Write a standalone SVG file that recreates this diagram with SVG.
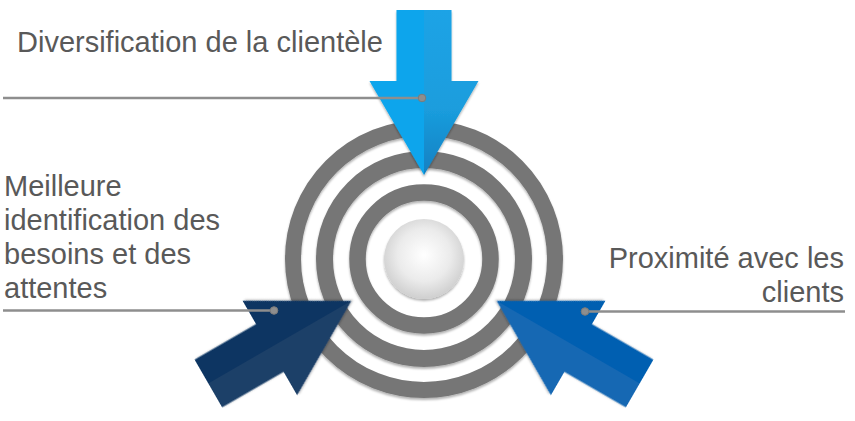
<svg xmlns="http://www.w3.org/2000/svg" width="855" height="421" viewBox="0 0 855 421">
<defs>
  <style>
    .lbl{font-family:"Liberation Sans",Arial,sans-serif;font-size:29px;fill:#595959}
    .ring{fill:none;stroke:#767676}
    .lead{stroke:#8e8e8e;stroke-width:2.5;fill:none}
    .dot{fill:#8e8e8e;stroke:#7a7a7a;stroke-width:1}
  </style>
  <filter id="sh" x="-20%" y="-20%" width="140%" height="140%">
    <feDropShadow dx="0" dy="2" stdDeviation="1.2" flood-color="#000" flood-opacity="0.3"/>
  </filter>
  <radialGradient id="ball" cx="0.5" cy="0.45" r="0.55">
    <stop offset="0" stop-color="#ffffff"/>
    <stop offset="0.6" stop-color="#ebebeb"/>
    <stop offset="1" stop-color="#cfcfcf"/>
  </radialGradient>
  <linearGradient id="topR" x1="0" y1="0" x2="0" y2="1">
    <stop offset="0" stop-color="#1aa3e6"/>
    <stop offset="0.6" stop-color="#1a9ddd"/>
    <stop offset="1" stop-color="#1180c2"/>
  </linearGradient>
  <path id="halfL" d="M0,-165 L-27.5,-165 L-27.5,-94 L-54.5,-94 L0,0 Z"/>
  <path id="halfR" d="M0,-165 L27.5,-165 L27.5,-94 L54.5,-94 L0,0 Z"/>
</defs>
<rect width="855" height="421" fill="#ffffff"/>

<g id="target" filter="url(#sh)">
  <circle class="ring" cx="424" cy="259" r="131" stroke-width="16"/>
  <circle class="ring" cx="424" cy="259" r="99.5" stroke-width="17"/>
  <circle class="ring" cx="424" cy="259" r="66.5" stroke-width="16.5"/>
  <circle cx="424" cy="259" r="40" fill="url(#ball)"/>
</g>

<g id="arrow-top" filter="url(#sh)" transform="translate(424,175)">
  <use href="#halfL" fill="#0ca5ec"/>
  <use href="#halfR" fill="url(#topR)"/>
</g>
<g id="arrow-left" filter="url(#sh)" transform="rotate(-120 424 259) translate(424,175)">
  <use href="#halfL" fill="#1d3f68"/>
  <use href="#halfR" fill="#0a3462"/>
</g>
<g id="arrow-right" filter="url(#sh)" transform="rotate(120 424 259) translate(424,175)">
  <use href="#halfL" fill="#065fb1"/>
  <use href="#halfR" fill="#1868b3"/>
</g>

<g id="connectors">
  <line class="lead" x1="3" y1="98" x2="422" y2="98"/>
  <circle class="dot" cx="422" cy="98" r="3.8"/>
  <line class="lead" x1="3" y1="310.5" x2="274" y2="310.5"/>
  <circle class="dot" cx="274" cy="310.5" r="3.8"/>
  <line class="lead" x1="585" y1="311.5" x2="845" y2="311.5"/>
  <circle class="dot" cx="585" cy="311.5" r="3.8"/>
</g>

<g id="label-top">
  <text class="lbl" x="17" y="52">Diversification de la clientèle</text>
</g>
<g id="label-left">
  <text class="lbl" x="4" y="196">Meilleure</text>
  <text class="lbl" x="4" y="230">identification des</text>
  <text class="lbl" x="4" y="264">besoins et des</text>
  <text class="lbl" x="4" y="298">attentes</text>
</g>
<g id="label-right">
  <text class="lbl" x="844" y="268" text-anchor="end">Proximité avec les</text>
  <text class="lbl" x="844" y="302" text-anchor="end">clients</text>
</g>
</svg>
